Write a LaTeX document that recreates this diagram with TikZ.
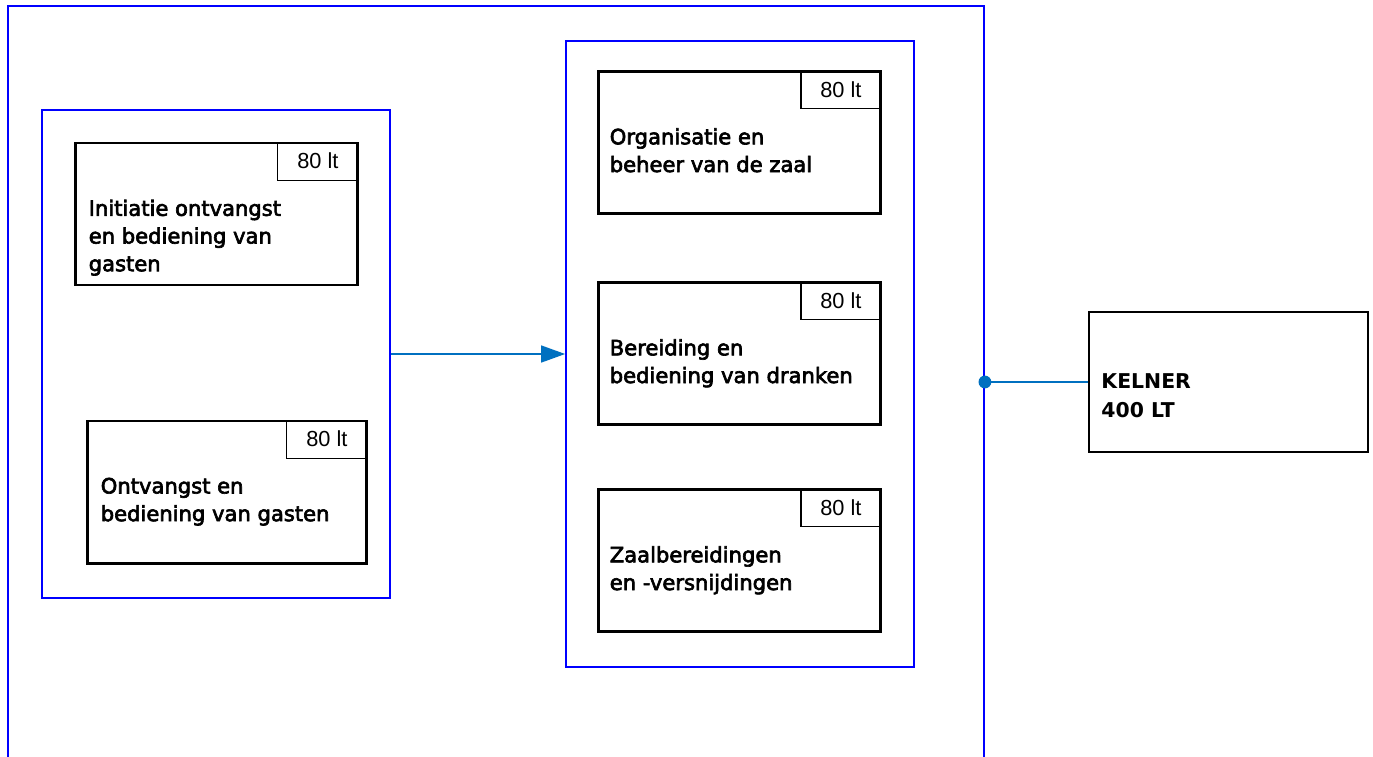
\documentclass[tikz,border=0pt]{standalone}
\usepackage{fontspec}
\setmainfont{DejaVu Sans}
\newfontfamily\modfont[FakeBold=3]{DejaVu Sans}
\newfontfamily\arialfont{Liberation Sans}
\usetikzlibrary{positioning,arrows.meta}
\definecolor{linkblue}{HTML}{0070C0}

\begin{document}
\begin{tikzpicture}[x=0.025cm,y=-0.025cm,
  frame/.style={draw=blue,line width=1.1pt,inner sep=0pt},
  module/.style={draw=black,line width=2.1pt,minimum width=7.025cm,minimum height=3.55cm,inner sep=0pt},
  hours/.style={draw=black,line width=0.8pt,minimum width=2cm,minimum height=0.95cm,inner sep=0pt,
    anchor=north east,font=\arialfont\fontsize{15.5}{18}\selectfont},
  title/.style={align=left,anchor=north west,inner sep=0pt,font=\modfont\fontsize{15}{19.7}\selectfont},
  link/.style={draw=linkblue,line width=1.4pt}]
 \clip (0,0) rectangle (1373,756);

  % frames
  \node[frame,minimum width=24.4cm,minimum height=18.9cm] (outer) at (496,384) {};
  \node[frame,minimum width=8.7cm,minimum height=12.2cm] (left) at (216,354) {};
  \node[frame,minimum width=8.7cm,minimum height=15.65cm] (right) at (740,354) {};

  % left modules
  \node[module] (m1) at (216.5,214) {};
  \node[hours] (h1) at (m1.north east) {80 lt};
  \node[title] (t1) at ([shift={(14,58)}]m1.north west) {Initiatie ontvangst\\en bediening van\\gasten};
  \node[module,minimum width=6.95cm] (m2) at (227,492) {};
  \node[hours] (h2) at (m2.north east) {80 lt};
  \node[title] (t2) at ([shift={(14,58)}]m2.north west) {Ontvangst en\\bediening van gasten};

  % right modules
  \foreach \n/\y/\txt in {3/142.5/{Organisatie en\\beheer van de zaal},
                          4/353.5/{Bereiding en\\bediening van dranken},
                          5/560.5/{Zaalbereidingen\\en -versnijdingen}}{
    \node[module] (m\n) at (739.5,\y) {};
    \node[hours] (h\n) at (m\n.north east) {80 lt};
    \node[title] (t\n) at ([shift={(12,58)}]m\n.north west) {\txt};
  }

  % result
  \node[draw=black,line width=1.1pt,minimum width=6.975cm,minimum height=3.5cm] (kelner) at (1228.5,382) {};
  \node[title,font=\bfseries\fontsize{14.5}{20.5}\selectfont] (kt) at ([shift={(13,62)}]kelner.north west) {KELNER\\400 LT};

  % connectors
  \draw[link,-{Triangle[length=6mm,width=4.2mm]}] (left.east) -- (right.west);
  \coordinate (joint) at (kelner.west -| outer.east);
  \draw[link] (joint) -- (kelner.west);
  \fill[linkblue] (joint) circle (1.6mm);
\end{tikzpicture}
\end{document}
